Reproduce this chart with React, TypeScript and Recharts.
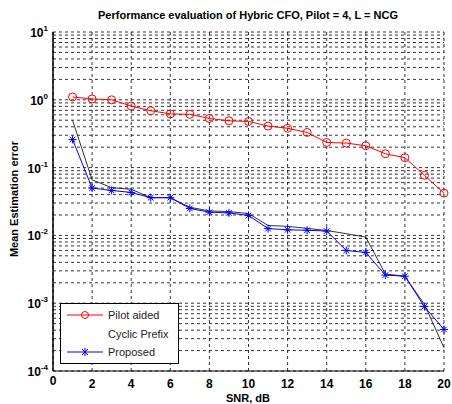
import { LineChart, Line, XAxis, YAxis, CartesianGrid, Legend, ReferenceLine } from "recharts";

// SNR (dB) points
const snr = [1, 2, 3, 4, 5, 6, 7, 8, 9, 10, 11, 12, 13, 14, 15, 16, 17, 18, 19, 20];

const pilotAided = [
  1.1, 1.03, 1.0, 0.81, 0.69, 0.62, 0.61, 0.53, 0.49, 0.48,
  0.41, 0.38, 0.33, 0.235, 0.23, 0.21, 0.16, 0.14, 0.077, 0.042,
];
const cyclicPrefix = [
  0.5, 0.066, 0.0506, 0.048, 0.036, 0.036, 0.026, 0.023, 0.0225, 0.021,
  0.014, 0.0136, 0.0127, 0.0118, 0.0106, 0.0094, 0.0027, 0.0025, 0.00096, 0.00022,
];
const proposed = [
  0.26, 0.05, 0.046, 0.043, 0.036, 0.036, 0.025, 0.022, 0.0215, 0.0197,
  0.0126, 0.0121, 0.0119, 0.0116, 0.006, 0.0056, 0.0026, 0.0025, 0.00089, 0.00041,
];

const xTickCount = 11; // 0, 2, ..., 20
const xOrigin = 0;
const decades = [1e-4, 1e-3, 1e-2, 1e-1, 1, 10];
const exponents = ["-4", "-3", "-2", "-1", "0", "1"];
const minorSteps = [2, 3, 4, 5, 6, 7, 8, 9];

const yTicks: number[] = [];
decades.forEach((d, i) => {
  yTicks.push(d);
  if (i < decades.length - 1) minorSteps.forEach((m) => yTicks.push(+(d * m).toPrecision(3)));
});

const data = snr.map((s, i) => ({
  snr: s,
  pilot: pilotAided[i],
  cp: cyclicPrefix[i],
  proposed: proposed[i],
}));

const FONT = "'Liberation Sans', Arial, sans-serif";

const YTick = (props: any) => {
  const { x, y, payload } = props;
  const idx = decades.findIndex((d) => Math.abs(d - payload.value) / d < 1e-6);
  if (idx < 0) return <g />;
  return (
    <text x={x + 3} y={y + 5} textAnchor="end" fontFamily={FONT} fontWeight="bold" fontSize={12} fill="#000">
      <tspan>10</tspan>
      <tspan dy={-6} fontSize={8}>{exponents[idx]}</tspan>
    </text>
  );
};

const XTick = (props: any) => {
  const { x, y, payload } = props;
  if (Math.round(payload.value) === xOrigin) return <g />;
  return (
    <text x={x} y={y + 9} textAnchor="middle" fontFamily={FONT} fontWeight="bold" fontSize={12} fill="#000">
      {String(Math.round(payload.value))}
    </text>
  );
};

const Circle = (props: any) => {
  const { cx, cy } = props;
  if (cx == null || cy == null) return <g />;
  return <circle cx={cx} cy={cy} r={4} fill="none" stroke="#ff0000" strokeWidth={1} />;
};

const Star = (props: any) => {
  const { cx, cy } = props;
  if (cx == null || cy == null) return <g />;
  const r = 4;
  const d = 2.8;
  return (
    <g stroke="#0000ff" strokeWidth={1}>
      <line x1={cx - r} y1={cy} x2={cx + r} y2={cy} />
      <line x1={cx} y1={cy - r} x2={cx} y2={cy + r} />
      <line x1={cx - d} y1={cy - d} x2={cx + d} y2={cy + d} />
      <line x1={cx - d} y1={cy + d} x2={cx + d} y2={cy - d} />
    </g>
  );
};

const legendItems = [
  { name: "Pilot aided", color: "#ff0000", marker: "circle" },
  { name: "Cyclic Prefix", color: "none", marker: "none" },
  { name: "Proposed", color: "#0000ff", marker: "star" },
];

const LegendBox = () => (
  <svg width={119} height={61} style={{ display: "block" }}>
    <rect x={0.5} y={0.5} width={118} height={60} fill="#fff" stroke="#000" />
    {legendItems.map((it, i) => {
      const cy = 12 + i * 18.5;
      return (
        <g key={i}>
          {it.color !== "none" && <line x1={7} y1={cy} x2={43} y2={cy} stroke={it.color} strokeWidth={1} />}
          {it.marker === "circle" && <circle cx={25} cy={cy} r={3.5} fill="none" stroke={it.color} />}
          {it.marker === "star" && (
            <g stroke={it.color}>
              <line x1={25} y1={cy - 4} x2={25} y2={cy + 4} />
              <line x1={22} y1={cy - 3} x2={28} y2={cy + 3} />
              <line x1={22} y1={cy + 3} x2={28} y2={cy - 3} />
            </g>
          )}
          <text x={48} y={cy + 4} fontFamily={FONT} fontSize={11} fill="#222">
            {it.name}
          </text>
        </g>
      );
    })}
  </svg>
);

export default function App() {
  return (
    <div style={{ position: "absolute", left: 0, top: 0, width: 452, height: 404, background: "#fff" }}>
      <div
        style={{
          position: "absolute",
          top: 9,
          left: 52,
          width: 392,
          textAlign: "center",
          fontFamily: FONT,
          fontWeight: "bold",
          fontSize: 11,
          color: "#000",
          whiteSpace: "nowrap",
        }}
      >
        Performance evaluation of Hybric CFO, Pilot = 4, L = NCG
      </div>
      <LineChart width={452} height={404} data={data} margin={{ top: 32, right: 8, bottom: 0, left: 0 }}>
        <CartesianGrid stroke="#000" strokeDasharray="3 3" strokeWidth={0.8} horizontal vertical />
        <XAxis
          dataKey="snr"
          type="number"
          domain={[0, 20]}
          tickCount={xTickCount}
          interval={0}
          tick={(p: any) => <XTick {...p} />}
          tickLine={false}
          axisLine={{ stroke: "#000" }}
          height={33}
          label={{
            content: () => (
              <text x={248} y={402} textAnchor="middle" fontFamily={FONT} fontWeight="bold" fontSize={11} fill="#000">
                SNR, dB
              </text>
            ),
          }}
        />
        <XAxis xAxisId="top" orientation="top" type="number" domain={[0, 20]} tickCount={xTickCount} tick={false} tickLine={false} height={0} axisLine={{ stroke: "#000" }} />
        <YAxis
          type="number"
          scale="log"
          domain={[1e-4, 10]}
          ticks={yTicks}
          allowDataOverflow
          interval={0}
          tick={<YTick />}
          tickLine={false}
          axisLine={{ stroke: "#000" }}
          width={53}
          label={{
            content: () => (
              <text x={18} y={199} transform="rotate(-90 18 199)" textAnchor="middle" fontFamily={FONT} fontWeight="bold" fontSize={11} fill="#000">
                Mean Estimation error
              </text>
            ),
          }}
        />
        <YAxis yAxisId="right" orientation="right" type="number" scale="log" domain={[1e-4, 10]} ticks={decades} allowDataOverflow tick={false} tickLine={false} width={0} axisLine={{ stroke: "#000" }} />
        <Legend
          layout="horizontal"
          verticalAlign="middle"
          align="center"
          content={<LegendBox />}
          wrapperStyle={{ position: "absolute", left: 60, top: 303, width: 119, height: 61 }}
        />
        <Line dataKey="cp" name="Cyclic Prefix" stroke="#000" strokeWidth={0.8} dot={false} isAnimationActive={false} />
        <Line dataKey="pilot" name="Pilot aided" stroke="#ff0000" strokeWidth={1} dot={<Circle />} isAnimationActive={false} />
        <Line dataKey="proposed" name="Proposed" stroke="#0000ff" strokeWidth={1} dot={<Star />} isAnimationActive={false} />
        <ReferenceLine
          x={xOrigin}
          stroke="#000"
          strokeWidth={1}
          label={{
            content: (p: any) => (
              <text
                x={p.viewBox.x}
                y={p.viewBox.y + p.viewBox.height + 14}
                textAnchor="middle"
                fontFamily={FONT}
                fontWeight="bold"
                fontSize={12}
                fill="#000"
              >
                {String(xOrigin)}
              </text>
            ),
          }}
        />
      </LineChart>
    </div>
  );
}
